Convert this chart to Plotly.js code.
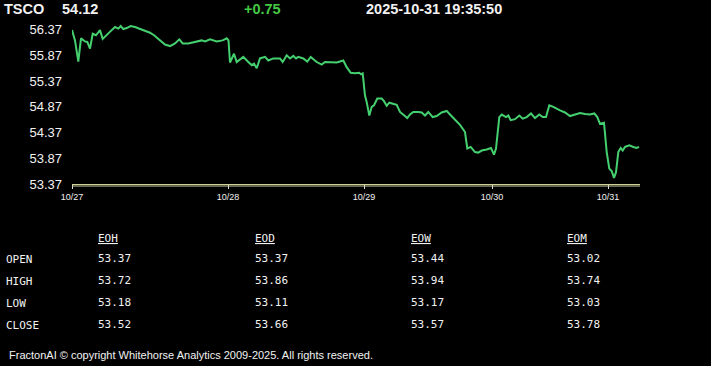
<!DOCTYPE html>
<html>
<head>
<meta charset="utf-8">
<script src="https://cdn.plot.ly/plotly-3.0.1.min.js"></script>
<style>
html,body{margin:0;padding:0;background:#000;}
#chart{width:711px;height:366px;}
</style>
</head>
<body>
<div id="chart"></div>
<script>
// ---- data ----
const symbol = 'TSCO';
const lastPrice = '54.12';
const change = '+0.75';
const timestamp = '2025-10-31 19:35:50';

// time index (bars) and price
const t = [0,1.5,3.15,4.5,6.5,7.65,9,10.35,12,14,15.35,17,19.85,21.5,23.15,24.35,25.65,27.35,29.35,31.5,34,36.5,39,41,44,46.5,49,51.5,53.65,55.35,58.15,62.35,64.85,66.5,69,72.35,75.35,77.35,78.25,79,81,82.35,85.65,88.15,89.85,91,92.35,94,96.5,98.15,100.65,104,105.35,107.35,109,110.65,112,113.15,115.65,117.65,119.35,122.35,124.85,126.5,129,132.35,135.65,137.35,139.35,141.5,143.65,144.5,145.35,146.5,147.35,148.65,149.85,151,152.65,154.85,156,157.35,158.65,160.65,162.35,164,165.65,167.65,169,170.65,173.15,174.85,176.5,178.15,180.35,182.35,184.85,187.35,189,191.5,194,196.5,197.65,199.35,201.5,203.15,204.85,207.35,209.5,211,212,213.65,214.85,217,218.15,219.35,221.5,223.65,225.35,227.35,229.5,231.5,233.65,235.35,237,238.65,240.65,244,246.5,249,251.5,254,256.5,259,261.15,262.65,264,266,267.35,268.65,269.85,271,272,273.15,274.35,275.35,276.5,278.65,280.65,282.35,283.5];
const price = [56.36,56.16,55.75,56.20,56.14,56.13,56.00,56.29,56.26,56.36,56.19,56.26,56.36,56.42,56.39,56.44,56.38,56.40,56.44,56.42,56.38,56.34,56.31,56.26,56.16,56.08,56.05,56.10,56.18,56.10,56.10,56.13,56.16,56.14,56.18,56.14,56.16,56.20,56.16,55.73,55.90,55.74,55.84,55.74,55.68,55.71,55.62,55.81,55.84,55.77,55.81,55.81,55.74,55.87,55.81,55.86,55.81,55.84,55.81,55.75,55.84,55.74,55.69,55.74,55.73,55.73,55.77,55.64,55.53,55.52,55.53,55.50,55.52,55.09,54.96,54.70,54.87,54.90,55.03,55.03,54.98,54.89,54.95,54.93,54.91,54.77,54.72,54.65,54.72,54.77,54.77,54.76,54.70,54.77,54.67,54.69,54.76,54.79,54.72,54.61,54.52,54.38,54.06,54.09,53.99,53.98,54.02,54.04,54.07,53.94,54.06,54.67,54.72,54.67,54.70,54.61,54.63,54.70,54.64,54.67,54.74,54.65,54.72,54.67,54.67,54.90,54.87,54.80,54.76,54.69,54.72,54.75,54.73,54.72,54.74,54.67,54.54,54.56,53.99,53.67,53.62,53.49,53.60,53.99,54.07,54.02,54.09,54.12,54.09,54.07,54.09];

const dayTicks = [0,78,146,210,268];
const dayLabels = ['10/27','10/28','10/29','10/30','10/31'];
const yTicks = [53.37,53.87,54.37,54.87,55.37,55.87,56.37];

const periods = ['EOH','EOD','EOW','EOM'];
const rowLabels = ['OPEN','HIGH','LOW','CLOSE'];
const eoh = [53.37,53.72,53.18,53.52];
const eod = [53.37,53.86,53.11,53.66];
const eow = [53.44,53.94,53.17,53.57];
const eom = [53.02,53.74,53.03,53.78];
const footer = 'FractonAI \u00a9 copyright Whitehorse Analytics 2009-2025. All rights reserved.';

// ---- layout helpers ----
const W = 711, H = 366;
const M = {l:72, r:71, t:20, b:182};
const PW = W - M.l - M.r, PH = H - M.t - M.b;
const px = X => (X - M.l) / PW;
const py = Y => (H - M.b - Y) / PH;
const sans = 'Liberation Sans, Arial, sans-serif';
const mono = 'DejaVu Sans Mono, monospace';
const WHITE = '#f2f2f2';

function ann(text, X, Y, font, anchor) {
  return {text:text, x:px(X), y:py(Y), xref:'paper', yref:'paper',
    xanchor:anchor||'left', yanchor:'middle', showarrow:false,
    borderpad:0, borderwidth:0, font:font};
}

const annotations = [];
const hdrFont = {family:sans, size:14.5, color:WHITE, weight:'bold'};
annotations.push(ann('<b>'+symbol+'</b>', 4, 9, hdrFont));
annotations.push(ann('<b>'+lastPrice+'</b>', 62, 9, hdrFont));
annotations.push(ann('<b>'+change+'</b>', 244, 9, {family:sans, size:14.5, color:'#44c944'}));
annotations.push(ann('<b>'+timestamp+'</b>', 366, 9, hdrFont));

const tblFont = {family:mono, size:11, color:WHITE};
const colX = [98, 255, 411, 567];
const rowY = [258, 280, 302, 324];
const cols = [eoh, eod, eow, eom];
periods.forEach((p,i) => annotations.push(ann('<u>'+p+'</u>', colX[i], 238, tblFont)));
rowLabels.forEach((r,j) => annotations.push(ann(r, 6, rowY[j]+1, tblFont)));
cols.forEach((c,i) => c.forEach((v,j) => annotations.push(ann(v.toFixed(2), colX[i], rowY[j], tblFont))));
annotations.push(ann(footer, 9, 355, {family:sans, size:11, color:WHITE}));

const trace = {x:t, y:price, type:'scatter', mode:'lines',
  line:{color:'#45d070', width:2}, hoverinfo:'skip'};

const layout = {
  width:W, height:H, margin:M,
  paper_bgcolor:'#000', plot_bgcolor:'#000',
  showlegend:false,
  xaxis:{range:[0,284], tickvals:dayTicks, ticktext:dayLabels,
    ticks:'outside', ticklen:4, tickcolor:'#e0e0e0', tickwidth:1,
    tickfont:{family:sans, size:9, color:WHITE},
    showgrid:false, zeroline:false, showline:true, linecolor:'#cfcf98', linewidth:1},
  yaxis:{range:[53.37, 53.37 + PH*0.01943], tickvals:yTicks,
    ticktext:yTicks.map(v=>v.toFixed(2)),
    tickfont:{family:sans, size:13, color:WHITE}, ticklabelstandoff:9,
    showgrid:false, zeroline:false, showline:false, ticks:''},
  shapes:[{type:'line', xref:'paper', yref:'paper', x0:0, x1:1,
    ysizemode:'pixel', yanchor:0, y0:-2, y1:-2,
    line:{color:'#cfcf98', width:1}}],
  annotations:annotations
};

Plotly.newPlot('chart', [trace], layout, {staticPlot:true, displayModeBar:false});
</script>
</body>
</html>
